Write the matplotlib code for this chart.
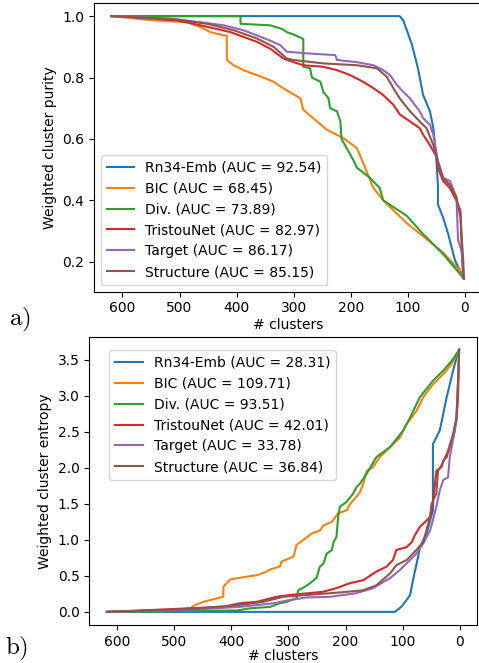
import matplotlib
matplotlib.use("Agg")
import matplotlib.pyplot as plt

plt.rcParams['mathtext.fontset'] = 'cm'

# ---- a) weighted cluster purity ----
pur_blue_x = [619, 114, 108, 93, 82, 73, 61, 55, 50, 47, 47, 38, 29, 17, 9, 1.5]
pur_blue_y = [1.0, 1.0, 0.987, 0.91, 0.83, 0.743, 0.69, 0.635, 0.54, 0.45, 0.387, 0.344, 0.29, 0.204, 0.172, 0.145]

pur_orange_x = [619, 545, 486, 463, 446, 422, 417, 417, 405, 388, 353, 335, 318, 288, 283, 259, 242, 213,
                189, 180, 160, 143, 102, 73, 38, 6, 1.5]
pur_orange_y = [1.0, 0.986, 0.98, 0.964, 0.948, 0.937, 0.937, 0.857, 0.84, 0.824, 0.80, 0.786, 0.765, 0.732,
                0.695, 0.657, 0.63, 0.603, 0.57, 0.53, 0.44, 0.40, 0.326, 0.283, 0.23, 0.166, 0.145]

pur_green_x = [619, 393, 393, 341, 320, 312, 300, 288, 283, 283, 271, 268, 253, 248, 239, 236, 224, 218, 216,
               207, 195, 189, 166, 149, 143, 102, 73, 38, 6, 1.5]
pur_green_y = [1.0, 1.0, 0.975, 0.97, 0.958, 0.948, 0.94, 0.93, 0.925, 0.835, 0.83, 0.80, 0.786, 0.753, 0.733,
               0.70, 0.69, 0.657, 0.60, 0.57, 0.53, 0.506, 0.473, 0.44, 0.40, 0.35, 0.29, 0.225, 0.155, 0.145]

pur_red_x = [619, 539, 504, 463, 411, 364, 341, 318, 300, 283, 248, 224, 201, 178, 160, 143, 125, 114, 96, 79,
             73, 61, 50, 47, 38, 26, 14.5, 7.5, 5.8, 3, 1.5]
pur_red_y = [1.0, 0.991, 0.986, 0.97, 0.948, 0.916, 0.894, 0.862, 0.85, 0.84, 0.835, 0.824, 0.808, 0.786, 0.765,
             0.743, 0.711, 0.68, 0.657, 0.635, 0.614, 0.58, 0.544, 0.506, 0.463, 0.44, 0.398, 0.366, 0.27, 0.15, 0.145]

pur_purple_x = [619, 510, 463, 422, 388, 364, 341, 323, 312, 271, 227, 224, 189, 160, 143, 131, 119, 108, 96,
                79, 73, 61, 55, 50, 47, 38, 26, 14.5, 11.7, 5.8, 1.5]
pur_purple_y = [1.0, 0.991, 0.98, 0.97, 0.954, 0.937, 0.92, 0.905, 0.884, 0.878, 0.873, 0.857, 0.85, 0.84,
                0.824, 0.808, 0.776, 0.754, 0.732, 0.69, 0.668, 0.646, 0.614, 0.56, 0.527, 0.473, 0.463, 0.41,
                0.27, 0.236, 0.145]

pur_brown_x = [619, 510, 452, 405, 364, 335, 312, 300, 248, 189, 154, 137, 125, 114, 96, 79, 67, 55, 47, 38,
               26, 14.5, 7.5, 2.5, 1.5]
pur_brown_y = [1.0, 0.99, 0.975, 0.954, 0.927, 0.90, 0.862, 0.857, 0.846, 0.84, 0.83, 0.803, 0.765, 0.732,
               0.69, 0.657, 0.635, 0.58, 0.527, 0.473, 0.45, 0.41, 0.344, 0.2, 0.145]

# ---- b) weighted cluster entropy ----
ent_blue_x = [618, 114, 102, 93, 87, 82, 73, 70, 58, 52, 47, 47, 35, 29, 23, 17.5, 11.7, 5.8, 1.2]
ent_blue_y = [0.0, 0.0, 0.073, 0.166, 0.235, 0.44, 0.765, 0.90, 1.09, 1.27, 1.41, 2.33, 2.52, 2.75, 2.98,
              3.16, 3.35, 3.53, 3.64]

ent_orange_x = [618, 520, 472, 463, 449, 425, 414, 414, 402, 373, 355, 338, 332, 315, 312, 300, 291, 286,
                274, 259, 245, 239, 224, 213, 198, 192, 181, 175, 169, 163, 152, 140, 122, 105, 93, 76, 64, 47,
                29, 14.5, 1.2]
ent_orange_y = [0.0, 0.02, 0.05, 0.097, 0.14, 0.19, 0.21, 0.35, 0.45, 0.49, 0.51, 0.56, 0.59, 0.63, 0.70, 0.74,
                0.77, 0.93, 1.0, 1.09, 1.13, 1.20, 1.25, 1.37, 1.41, 1.50, 1.60, 1.66, 1.78, 1.96, 2.01, 2.15,
                2.29, 2.42, 2.61, 2.79, 2.98, 3.16, 3.30, 3.44, 3.64]

ent_green_x = [618, 390, 367, 332, 315, 303, 286, 283, 271, 262, 251, 245, 239, 233, 224, 221, 216, 213, 210,
               198, 187, 181, 175, 163, 146, 122, 99, 87, 70, 47, 29, 11.7, 1.2]
ent_green_y = [0.0, 0.02, 0.05, 0.07, 0.12, 0.14, 0.19, 0.30, 0.35, 0.40, 0.47, 0.63, 0.67, 0.81, 0.86, 0.97,
               1.04, 1.32, 1.46, 1.53, 1.64, 1.73, 1.78, 1.92, 2.15, 2.29, 2.52, 2.70, 2.98, 3.21, 3.35, 3.51, 3.64]

ent_red_x = [618, 472, 414, 385, 355, 321, 297, 239, 216, 192, 169, 146, 128, 117, 111, 93, 84, 79, 70, 58,
             52, 47, 41, 32, 29, 23, 17.5, 11.7, 5.8, 3, 1.2]
ent_red_y = [0.0, 0.05, 0.07, 0.12, 0.14, 0.21, 0.235, 0.28, 0.33, 0.40, 0.44, 0.56, 0.63, 0.72, 0.86, 0.90,
             0.97, 1.06, 1.18, 1.27, 1.32, 1.52, 1.96, 2.01, 2.10, 2.15, 2.29, 2.42, 2.66, 2.98, 3.64]

ent_purple_x = [618, 472, 385, 326, 297, 268, 227, 181, 152, 122, 105, 87, 76, 64, 52, 41, 35, 29, 20.5, 17.5,
                8.7, 5.8, 3, 1.2]
ent_purple_y = [0.0, 0.03, 0.07, 0.12, 0.166, 0.20, 0.21, 0.26, 0.33, 0.47, 0.58, 0.72, 0.81, 0.95, 1.13,
                1.46, 1.69, 1.83, 1.87, 2.15, 2.52, 2.70, 3.21, 3.64]

ent_brown_x = [618, 472, 385, 344, 309, 268, 210, 169, 146, 122, 111, 93, 76, 64, 52, 49.5, 41, 38, 29, 20.5,
               11.7, 5.8, 3, 1.2]
ent_brown_y = [0.0, 0.04, 0.097, 0.14, 0.21, 0.235, 0.27, 0.30, 0.37, 0.535, 0.65, 0.72, 0.86, 0.97, 1.32,
               1.50, 1.64, 1.96, 2.08, 2.24, 2.47, 2.70, 3.21, 3.64]

names = ['Rn34-Emb', 'BIC', 'Div.', 'TristouNet', 'Target', 'Structure']
auc_purity = [92.54, 68.45, 73.89, 82.97, 86.17, 85.15]
auc_entropy = [28.31, 109.71, 93.51, 42.01, 33.78, 36.84]

purity = [(pur_blue_x, pur_blue_y), (pur_orange_x, pur_orange_y), (pur_green_x, pur_green_y),
          (pur_red_x, pur_red_y), (pur_purple_x, pur_purple_y), (pur_brown_x, pur_brown_y)]
entropy = [(ent_blue_x, ent_blue_y), (ent_orange_x, ent_orange_y), (ent_green_x, ent_green_y),
           (ent_red_x, ent_red_y), (ent_purple_x, ent_purple_y), (ent_brown_x, ent_brown_y)]

fig = plt.figure(figsize=(4.79, 6.63), dpi=100)
ax1 = fig.add_axes([94 / 479, 1 - 291.7 / 663, 387.5 / 479, 288.7 / 663])
ax2 = fig.add_axes([89.3 / 479, 1 - 625 / 663, 387.4 / 479, 288.3 / 663])

for (x, y), name, auc in zip(purity, names, auc_purity):
    ax1.plot(x, y, label='%s (AUC = %.2f)' % (name, auc))
ax1.invert_xaxis()
ax1.set_xlabel('# clusters', labelpad=1.5)
ax1.set_ylabel('Weighted cluster purity')
ax1.set_xticks([600, 500, 400, 300, 200, 100, 0])
ax1.set_yticks([0.2, 0.4, 0.6, 0.8, 1.0])
ax1.legend(loc='lower left')

for (x, y), name, auc in zip(entropy, names, auc_entropy):
    ax2.plot(x, y, label='%s (AUC = %.2f)' % (name, auc))
ax2.invert_xaxis()
ax2.set_xlabel('# clusters', labelpad=0)
ax2.set_ylabel('Weighted cluster entropy')
ax2.set_xticks([600, 500, 400, 300, 200, 100, 0])
ax2.set_yticks([0.0, 0.5, 1.0, 1.5, 2.0, 2.5, 3.0, 3.5])
ax2.legend(loc='upper left', bbox_to_anchor=(0.034, 0.978))

fig.text(9 / 479, 1 - 320 / 663, r'$\mathrm{a)}$', fontsize=18, va='center', ha='left')
fig.text(5 / 479, 1 - 649 / 663, r'$\mathrm{b)}$', fontsize=18, va='center', ha='left')

fig.savefig('out.png', dpi=100)
